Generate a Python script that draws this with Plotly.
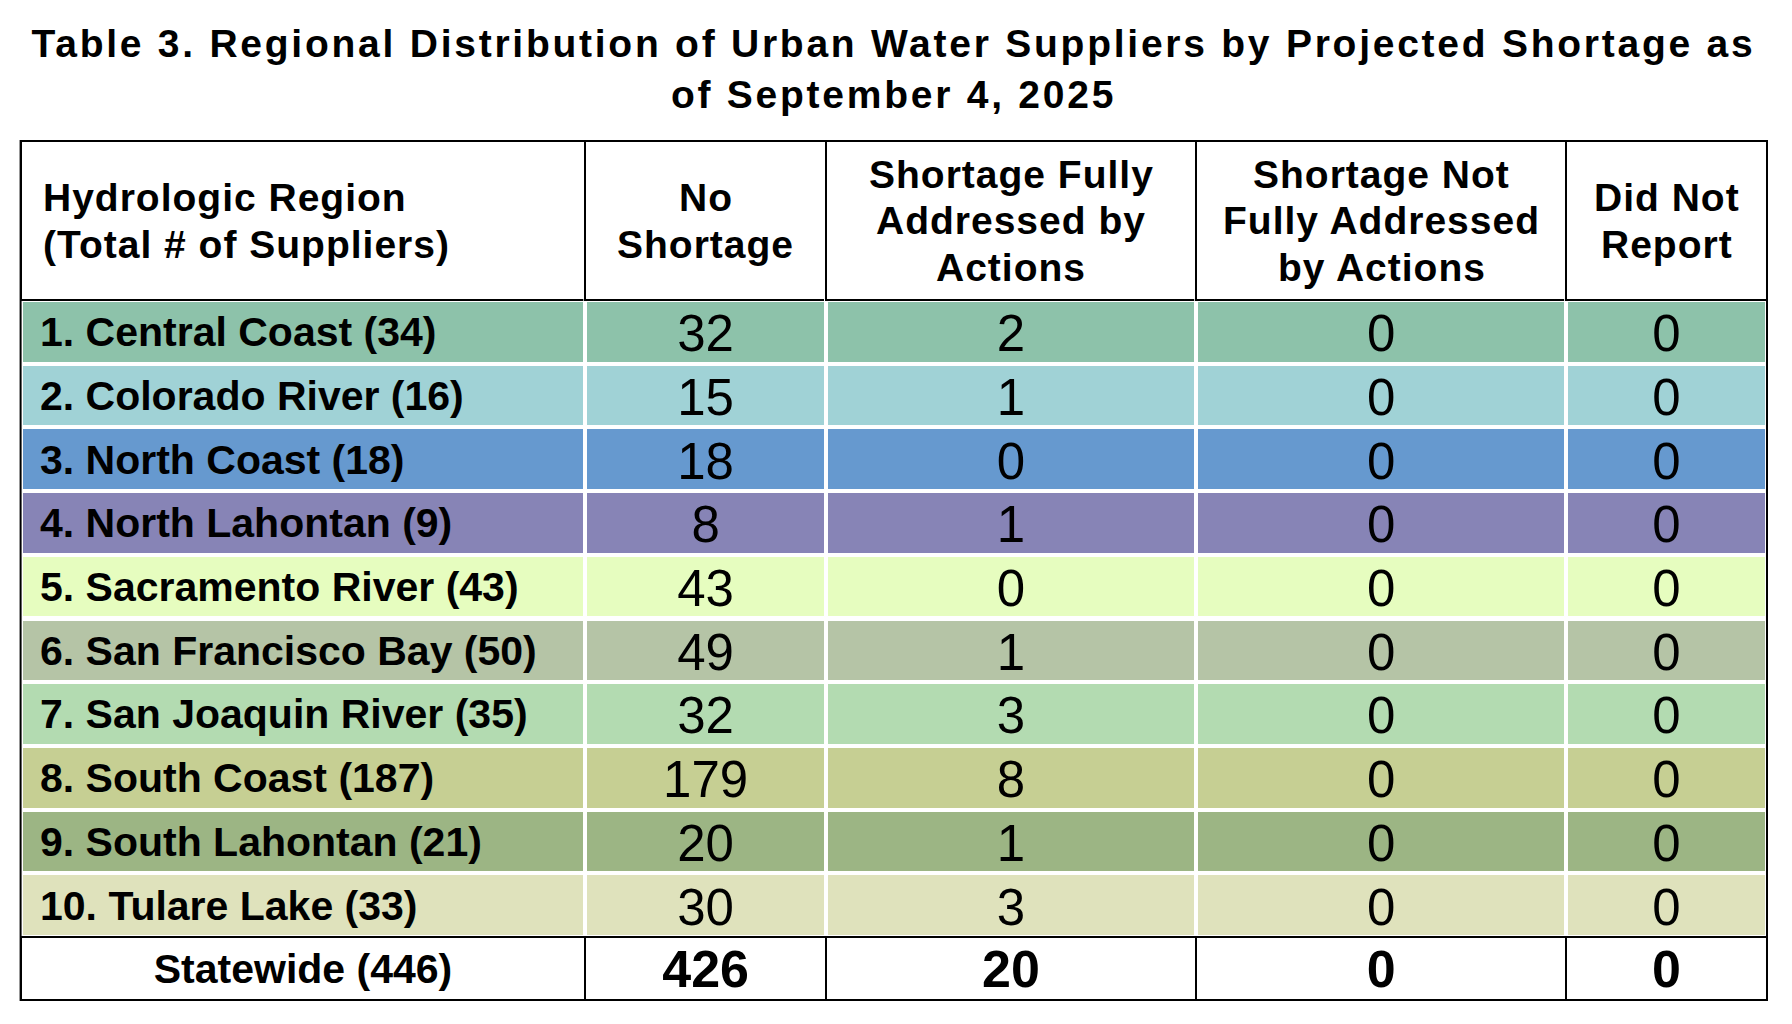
import plotly.graph_objects as go

# ---------------- data ----------------
regions = ["Central Coast", "Colorado River", "North Coast", "North Lahontan",
           "Sacramento River", "San Francisco Bay", "San Joaquin River",
           "South Coast", "South Lahontan", "Tulare Lake"]
total_suppliers = [34, 16, 18, 9, 43, 50, 35, 187, 21, 33]
no_shortage = [32, 15, 18, 8, 43, 49, 32, 179, 20, 30]
fully_addressed = [2, 1, 0, 1, 0, 1, 3, 8, 1, 3]
not_fully_addressed = [0, 0, 0, 0, 0, 0, 0, 0, 0, 0]
did_not_report = [0, 0, 0, 0, 0, 0, 0, 0, 0, 0]
statewide_label = "Statewide"
header_lines = [["Hydrologic Region", "(Total # of Suppliers)"],
                ["No", "Shortage"],
                ["Shortage Fully", "Addressed by", "Actions"],
                ["Shortage Not", "Fully Addressed", "by Actions"],
                ["Did Not", "Report"]]
title_lines = ["Table 3. Regional Distribution of Urban Water Suppliers by Projected Shortage as",
               "of September 4, 2025"]

# ---------------- styling ----------------
row_colors = ["#8DC2AA", "#A0D2D6", "#6699CF", "#8784B6", "#E6FDBF",
              "#B5C4A6", "#B3DBB1", "#C6CF93", "#9CB584", "#DFE2BC"]
OFF = 8                      # page body margin of the html page
W, H = 1792 - OFF, 1024 - OFF
col_edges = [e - OFF for e in [20.6, 585.5, 826, 1196.5, 1566.5, 1767]]
col_widths = [b - a for a, b in zip(col_edges[:-1], col_edges[1:])]
table_top, header_h, row_h = 141 - OFF, 159, 63.7
footer_top, table_bottom = 937 - OFF, 1000 - OFF
dy_label, dy_num = 7.5, 5            # vertical nudge of cell text inside body rows
dy_foot_label, dy_foot_num = 7.5, 2.5
FONT = "Liberation Sans, Arial, sans-serif"
NBSP = "\u00a0"
CLEAR = "rgba(0,0,0,0)"

n = len(regions)
ncol = 5
label_col = [(NBSP + f"{i + 1}. {r} ({t})").replace(" ", NBSP)
             for i, (r, t) in enumerate(zip(regions, total_suppliers))]
num_cols = [no_shortage, fully_addressed, not_fully_addressed, did_not_report]
num_text = [[str(v) for v in c] for c in num_cols]
footer_label = f"{statewide_label} ({sum(total_suppliers)})".replace(" ", NBSP)
footer_nums = [str(sum(c)) for c in num_cols]

fill = [row_colors for _ in range(ncol)]
xdom = [col_edges[0] / W, col_edges[-1] / W]
aligns = ["left", "center", "center", "center", "center"]
blank = [""] * n


def ydom(top_px, bottom_px):
    return [1 - bottom_px / H, 1 - top_px / H]


def text_body(vals, dy, sizes, weights):
    return go.Table(
        domain=dict(x=xdom, y=ydom(table_top + dy, footer_top + dy)),
        columnwidth=col_widths,
        header=dict(values=[""] * ncol, height=header_h, fill_color=CLEAR,
                    line=dict(color=CLEAR, width=0)),
        cells=dict(values=vals, height=row_h, fill_color=CLEAR,
                   line=dict(color=CLEAR, width=0), align=aligns,
                   font=dict(family=FONT, size=sizes, color="black", weight=weights)))


def text_foot(vals, dy, sizes):
    return go.Table(
        domain=dict(x=xdom, y=ydom(footer_top + dy, table_bottom + dy)),
        columnwidth=col_widths,
        header=dict(values=vals, height=table_bottom - footer_top, fill_color=CLEAR,
                    line=dict(color=CLEAR, width=0), align="center",
                    font=dict(family=FONT, size=sizes, color="black", weight=700)),
        cells=dict(values=[]))


fig = go.Figure()
# body: coloured rows (fills and separators)
fig.add_trace(go.Table(
    domain=dict(x=xdom, y=ydom(table_top, footer_top)),
    columnwidth=col_widths,
    header=dict(values=[""] * ncol, height=header_h, fill_color="white",
                line=dict(color="black", width=2)),
    cells=dict(values=[blank for _ in range(ncol)], height=row_h, fill_color=fill,
               line=dict(color="white", width=4)),
))
# body text: region labels and counts
fig.add_trace(text_body([label_col] + [blank] * 4, dy_label, [41] * 5, [700] * 5))
fig.add_trace(text_body([blank] + num_text, dy_num, [51] * 5, [400] * 5))
# statewide totals row
fig.add_trace(go.Table(
    domain=dict(x=xdom, y=ydom(footer_top, table_bottom)),
    columnwidth=col_widths,
    header=dict(values=[""] * ncol, height=table_bottom - footer_top, fill_color="white",
                line=dict(color="black", width=2)),
    cells=dict(values=[]),
))
fig.add_trace(text_foot([footer_label] + [""] * 4, dy_foot_label, [41] * 5))
fig.add_trace(text_foot([""] + footer_nums, dy_foot_num, [52] * 5))

# header texts, one annotation per line, block centred in the header band
HFS, HLS = 39, 46.7
band_mid = table_top + header_h / 2 + 14.5
for j, lines in enumerate(header_lines):
    if j == 0:
        x, xa = (col_edges[0] + 20) / W, "left"
    else:
        x, xa = (col_edges[j] + col_edges[j + 1]) / 2 / W, "center"
    k = len(lines)
    for i, ln in enumerate(lines):
        base = band_mid + (i - (k - 1) / 2) * HLS
        fig.add_annotation(text=f"<span style='letter-spacing:1px'>{ln}</span>",
                           x=x, y=1 - (base - 0.36 * HFS) / H, xref="paper", yref="paper",
                           xanchor=xa, yanchor="middle", showarrow=False,
                           font=dict(family=FONT, size=HFS, color="black", weight="bold"))

# outer border
fig.add_shape(type="rect", xref="paper", yref="paper",
              x0=xdom[0], x1=xdom[1], y0=1 - table_bottom / H, y1=1 - table_top / H,
              line=dict(color="black", width=2), layer="above")

title_html = "<br>".join(f"<span style='letter-spacing:2.75px'>{t}</span>" for t in title_lines)
fig.update_layout(
    width=W, height=H, paper_bgcolor="white", plot_bgcolor="white",
    margin=dict(l=0, r=0, t=0, b=0),
    title=dict(text=title_html, x=885.5 / W, xanchor="center", y=1 - 49 / H, yanchor="top",
               yref="container",
               font=dict(family=FONT, size=39, color="black", weight="bold")),
)

fig.write_html("out.html")
